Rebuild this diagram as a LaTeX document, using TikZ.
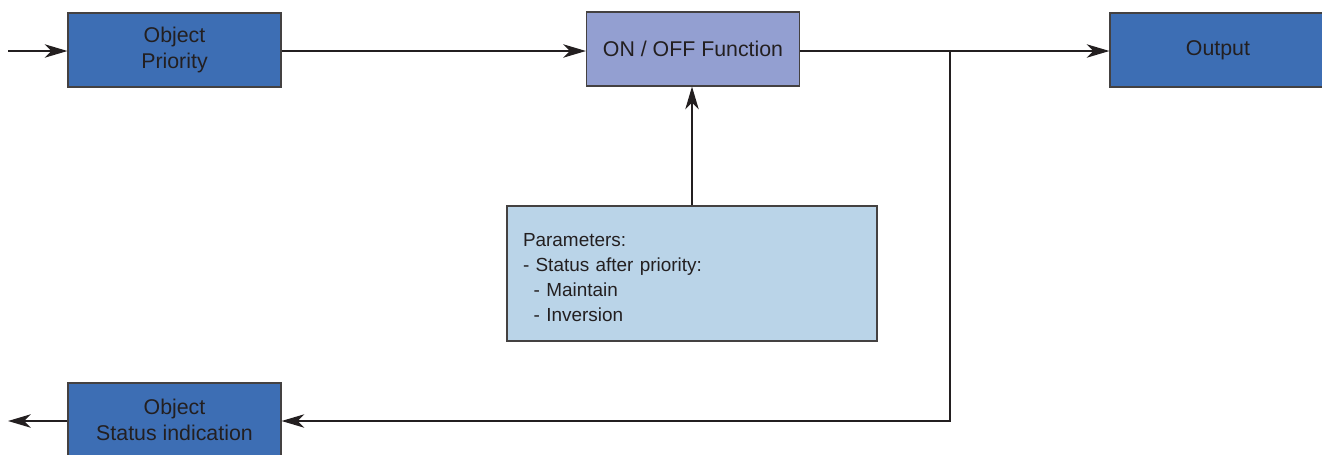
\documentclass[tikz,border=0pt]{standalone}
\usepackage{fontspec}
\setmainfont{Liberation Sans}
\usetikzlibrary{arrows.meta}
\definecolor{blockblue}{HTML}{3D6EB4}
\definecolor{funcviolet}{HTML}{939FD1}
\definecolor{parambg}{HTML}{BAD4E8}
\definecolor{ink}{HTML}{231F20}
\begin{document}
\begin{tikzpicture}[x=0.75pt,y=-0.75pt,
  box/.style={draw=ink!85, line width=0.8pt, text=ink,
    font=\fontsize{16}{19.5}\selectfont, align=center, inner sep=0pt,
    minimum width=159.75pt, minimum height=55.5pt},
  wire/.style={draw=ink, line width=1.7pt},
  arrow/.style={wire, -{Stealth[length=17pt,width=10pt,inset=5pt]}}]
\useasboundingbox (0,0) rectangle (1322,454);

% blocks
\node[box, fill=blockblue] (prio) at (174.5,50) {Object\\Priority};
\node[box, fill=funcviolet] (func) at (693,49) {ON / OFF Function};
\node[box, fill=blockblue, minimum width=162pt] (out) at (1218,50) {Output};
\node[box, fill=blockblue] (stat) at (174.5,420) {Object\\Status indication};
\node[box, fill=parambg, align=left, minimum width=277.5pt, minimum height=101.25pt,
  text width=253.5pt, inner xsep=12pt, font=\fontsize{14.2}{18.75}\selectfont]
  (param) at (692,273.5)
  {\rule{0pt}{16pt}Parameters:\\- Status after priority:\\\hspace*{8pt}- Maintain\\\hspace*{8pt}- Inversion};

% connectors
\coordinate (in) at (8,51);
\coordinate (tap) at (950,51);
\coordinate (sout) at (8,421);
\draw[arrow] (in) -- (in -| prio.west);
\draw[arrow] (prio.east |- in) -- (func.west |- in);
\draw[arrow] (func.east |- tap) -- (out.west |- tap);
\draw[arrow] (tap) -- (tap |- sout) -- (stat.east |- sout);
\draw[arrow] (stat.west |- sout) -- (sout);
\draw[arrow] (param.north) -- (param.north |- func.south);
\end{tikzpicture}
\end{document}
